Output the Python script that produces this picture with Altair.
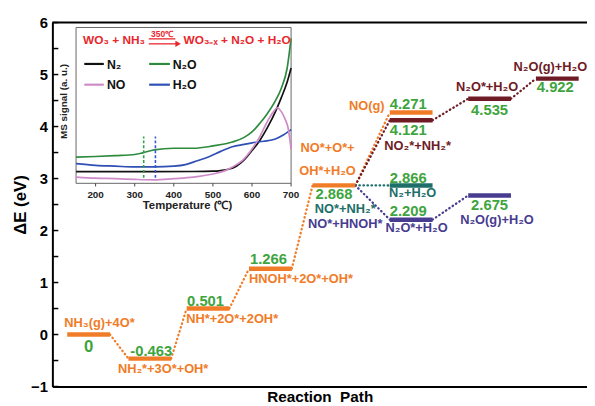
import altair as alt
import pandas as pd

# ---------------- main energy diagram data ----------------
level_x = [0.61, 1.64, 2.62, 3.67, 4.74, 6.04, 6.04, 6.04, 6.04, 7.36, 7.36, 8.50]
level_e = [0.0, -0.463, 0.501, 1.266, 2.868, 4.271, 4.121, 2.866, 2.209, 4.535, 2.675, 4.922]
level_path = ["NH3", "NH3", "NH3", "NH3", "NH3", "NH3", "NO2", "N2", "N2O", "NO2", "N2O", "NO2"]
level_value_text = ["0", "-0.463", "0.501", "1.266", "2.868", "4.271", "4.121",
                    "2.866", "2.209", "4.535", "2.675", "4.922"]

link_from = [0, 1, 2, 3, 4, 4, 6, 9, 4, 4, 8]
link_to = [1, 2, 3, 4, 5, 6, 9, 11, 7, 8, 10]

species_text = ["NH₃(g)+4O*", "NH₂*+3O*+OH*", "NH*+2O*+2OH*", "HNOH*+2O*+OH*",
                "NO*+O*+", "OH*+H₂O", "NO*+NH₂*", "NO*+HNOH*", "NO(g)",
                "NO₂*+NH₂*", "N₂+H₂O", "N₂O*+H₂O", "N₂O*+H₂O", "N₂O(g)+H₂O", "N₂O(g)+H₂O"]
species_level = [0, 1, 2, 3, 4, 4, 4, 4, 5, 6, 7, 8, 9, 10, 11]
species_path = ["NH3", "NH3", "NH3", "NH3", "NH3", "NH3", "N2", "N2O", "NH3",
                "NO2", "N2", "N2O", "NO2", "N2O", "NO2"]

y_ticks = [-1, -0.5, 0, 0.5, 1, 1.5, 2, 2.5, 3, 3.5, 4, 4.5, 5, 5.5, 6]
y_labels = [-1, 0, 1, 2, 3, 4, 5, 6]

# ---------------- inset (MS signal vs temperature) data ----------------
t_n2o = [150, 200, 250, 300, 320, 350, 400, 450, 500, 550, 580, 600, 620, 640, 660, 675, 690, 700]
s_n2o = [1.68, 1.72, 1.78, 1.85, 1.95, 2.15, 2.25, 2.25, 2.4, 2.65, 2.95, 3.3, 3.85, 4.5, 5.3, 6.1, 7.4, 9.3]
t_n2 = [150, 250, 350, 450, 500, 520, 540, 560, 580, 600, 620, 640, 660, 675, 690, 700]
s_n2 = [0.75, 0.75, 0.75, 0.76, 0.78, 0.82, 0.9, 1.1, 1.5, 2.1, 2.75, 3.6, 4.6, 5.5, 6.5, 7.4]
t_no = [150, 200, 250, 300, 350, 400, 450, 500, 530, 550, 575, 600, 620, 640, 655, 665, 675, 685, 692, 700]
s_no = [0.4, 0.33, 0.3, 0.25, 0.22, 0.3, 0.4, 0.6, 0.8, 1.05, 1.45, 2.2, 3.0, 4.0, 4.6, 4.85, 4.6, 4.1, 3.6, 2.2]
t_h2o = [150, 200, 250, 300, 350, 400, 430, 460, 490, 520, 550, 580, 600, 630, 660, 680, 700]
s_h2o = [1.26, 1.15, 1.1, 1.05, 1.05, 1.1, 1.2, 1.45, 1.7, 2.05, 2.35, 2.5, 2.6, 2.7, 2.85, 3.1, 3.45]
dash_t = [323, 353]
inset_ticks = [200, 300, 400, 500, 600, 700]

# ---------------- layout / style ----------------
W, H = 542, 369
X_DOM, Y_DOM = [0, 9], [-1, 6]
PXX = W / (X_DOM[1] - X_DOM[0])
PXY = H / (Y_DOM[1] - Y_DOM[0])
HW = 0.36  # half width of a level bar (x units)
FONT = "Liberation Sans"
GREEN = "#3EA43E"
path_color = {"NH3": "#F07C28", "NO2": "#6E1B25", "N2": "#1E6E69", "N2O": "#473C8F"}

# value-label offsets (px): dx, dy, size
value_off = [(0, 13, 17), (1.5, -8, 15), (-2.5, -8, 15), (-2, -10, 15), (0, 9, 15),
             (-3, -9, 15), (-3, 10, 15), (-3, -8, 15), (-3, -9, 15), (0, 11, 15),
             (0, 10, 15), (-2, 8.5, 15)]
# species-label offsets (px): dx, dy
species_off = [(11, -12), (13.5, 11), (24.5, 11), (31, 10), (-6.5, -38), (-6.5, -15),
               (11.5, 24), (11.5, 39), (-45, -6), (6.5, 26), (1.5, 8), (5.5, 9),
               (-2.5, -12), (7.5, 25), (-7, -12)]

bars = pd.DataFrame({
    "x": [v - HW for v in level_x],
    "x2": [v + HW for v in level_x],
    "y": level_e,
    "c": [path_color[p] for p in level_path],
})

link_rows = []
for k, (a, b) in enumerate(zip(link_from, link_to)):
    col = path_color[level_path[b]]
    link_rows.append({"id": k, "o": 0, "x": level_x[a] + HW, "y": level_e[a], "c": col})
    link_rows.append({"id": k, "o": 1, "x": level_x[b] - HW, "y": level_e[b], "c": col})
links = pd.DataFrame(link_rows)

vals = pd.DataFrame({
    "x": [level_x[i] + value_off[i][0] / PXX for i in range(len(level_x))],
    "y": [level_e[i] - value_off[i][1] / PXY for i in range(len(level_x))],
    "t": level_value_text,
    "fs": [o[2] for o in value_off],
})

spec = pd.DataFrame({
    "x": [level_x[l] + species_off[k][0] / PXX for k, l in enumerate(species_level)],
    "y": [level_e[l] - species_off[k][1] / PXY for k, l in enumerate(species_level)],
    "t": species_text,
    "c": [path_color[p] for p in species_path],
})

xs = alt.Scale(domain=X_DOM, nice=False, zero=False)
ys = alt.Scale(domain=Y_DOM, nice=False, zero=False)
xaxis = alt.Axis(labels=False, ticks=False, grid=False, domainColor="black", domainWidth=2,
                 title="Reaction\u00a0\u00a0Path", titleFont=FONT, titleFontSize=15.5,
                 titleFontWeight="bold", titleColor="black", titlePadding=3)
yaxis = alt.Axis(values=y_labels, format="d", ticks=False, grid=False, domainColor="black",
                 domainWidth=2, labelFont=FONT, labelFontSize=15, labelFontWeight="bold",
                 labelColor="black", labelPadding=5, title="ΔE (eV)", titleFont=FONT,
                 titleFontSize=17, titleFontWeight="bold", titleColor="black", titlePadding=1)


def X(f):
    return alt.X(f, type="quantitative", scale=xs, axis=xaxis)


def Y(f):
    return alt.Y(f, type="quantitative", scale=ys, axis=yaxis)


col_none = alt.Color("c:N", scale=None)

top_border = alt.Chart(pd.DataFrame({"y": [Y_DOM[1]]})).mark_rule(
    color="black", strokeWidth=2).encode(y=Y("y"), x=alt.value(0), x2=alt.value(W))

inner_ticks = alt.Chart(pd.DataFrame({"y": y_ticks})).mark_rule(
    color="black", strokeWidth=1.5).encode(y=Y("y"), x=alt.value(0), x2=alt.value(6))

link_layer = alt.Chart(links).mark_line(
    strokeDash=[0.5, 3.6], strokeCap="round", strokeWidth=2.3).encode(
    x=X("x"), y=Y("y"), detail="id:N", order="o:Q", color=col_none)

bar_layer = alt.Chart(bars).mark_rule(strokeWidth=4.5).encode(
    x=X("x"), x2="x2", y=Y("y"), color=col_none)

val_layer = alt.Chart(vals).mark_text(
    font=FONT, fontWeight="bold", color=GREEN, align="center", baseline="middle").encode(
    x=X("x"), y=Y("y"), text="t:N", size=alt.Size("fs:Q", scale=None))

spec_layer = alt.Chart(spec).mark_text(
    font=FONT, fontSize=13, fontWeight="bold", align="center", baseline="middle").encode(
    x=X("x"), y=Y("y"), text="t:N", color=col_none)

main = alt.layer(top_border, inner_ticks, link_layer, bar_layer, val_layer, spec_layer)

# ---------------- inset ----------------
xi = alt.Scale(domain=[150, 700], range=[24, 242], nice=False, zero=False)
yi = alt.Scale(domain=[0, 10], range=[163, 5], nice=False, zero=False)


def XI(f):
    return alt.X(f, type="quantitative", scale=xi, axis=None)


def YI(f):
    return alt.Y(f, type="quantitative", scale=yi, axis=None)


frame = alt.Chart(pd.DataFrame({"T": [150], "T2": [700], "s": [0], "s2": [10]})).mark_rect(
    fill="white", stroke="#666666", strokeWidth=1).encode(x=XI("T"), x2="T2", y=YI("s"), y2="s2")

series = [("N2O", t_n2o, s_n2o, "#2E8B3E"), ("N2", t_n2, s_n2, "#111111"),
          ("H2O", t_h2o, s_h2o, "#2F4FB3"), ("NO", t_no, s_no, "#CF8BC8")]
rows = []
for name, ts, ss, c in series:
    for i, (t, s) in enumerate(zip(ts, ss)):
        rows.append({"T": t, "s": s, "k": name, "i": i, "c": c})
curves = alt.Chart(pd.DataFrame(rows)).mark_line(strokeWidth=1.7, interpolate="monotone").encode(
    x=XI("T"), y=YI("s"), detail="k:N", order="i:Q", color=col_none)

dashes = alt.Chart(pd.DataFrame({"T": dash_t, "s": [0.35, 0.35], "s2": [3.0, 3.0],
                                 "c": ["#33A043", "#3558D0"]})).mark_rule(
    strokeDash=[3, 2], strokeWidth=1.6).encode(x=XI("T"), y=YI("s"), y2="s2", color=col_none)

itick = alt.Chart(pd.DataFrame({"T": inset_ticks})).mark_rule(color="#444", strokeWidth=1).encode(
    x=XI("T"), y=alt.datum(0, scale=yi, axis=None, type="quantitative"), y2=alt.datum(-0.2))

itick_lab = alt.Chart(pd.DataFrame({"T": inset_ticks, "s": [-0.78] * 6})).mark_text(
    font=FONT, fontSize=10, fontWeight="bold", color="#222", baseline="middle").encode(
    x=XI("T"), y=YI("s"), text="T:Q")

inset_texts = pd.DataFrame({
    "T": [435, 120],
    "s": [-1.45, 5.25],
    "t": ["Temperature (℃)", "MS signal (a. u.)"],
    "a": [0, 270],
    "fs": [11.5, 10],
})
itxt = alt.Chart(inset_texts).mark_text(font=FONT, fontWeight="bold", color="#222",
                                        baseline="middle").encode(
    x=XI("T"), y=YI("s"), text="t:N", angle=alt.Angle("a:Q", scale=None),
    size=alt.Size("fs:Q", scale=None))

# legend
leg_lines = pd.DataFrame({"T": [171, 337, 171, 337], "T2": [221, 390, 221, 390],
                          "s": [7.66, 7.66, 6.33, 6.33],
                          "c": ["#111111", "#2E8B3E", "#CF8BC8", "#2F4FB3"]})
leg_l = alt.Chart(leg_lines).mark_rule(strokeWidth=2.2).encode(
    x=XI("T"), x2="T2", y=YI("s"), color=col_none)
leg_t = alt.Chart(pd.DataFrame({"T": [229, 397, 229, 397], "s": [7.6, 7.6, 6.3, 6.3],
                                "t": ["N₂", "N₂O", "NO", "H₂O"]})).mark_text(
    font=FONT, fontSize=12.5, fontWeight="bold", color="#111", align="left", baseline="middle").encode(
    x=XI("T"), y=YI("s"), text="t:N")

# reaction title in inset
RED = "#E8262B"
rt = alt.Chart(pd.DataFrame({"T": [168, 425], "s": [9.18, 9.18],
                             "t": ["WO₃ + NH₃", "WO₃₋ₓ + N₂O + H₂O"]})).mark_text(
    font=FONT, fontSize=12, fontWeight="bold", color=RED, align="left", baseline="middle").encode(
    x=XI("T"), y=YI("s"), text="t:N")
rt_temp = alt.Chart(pd.DataFrame({"T": [370], "s": [9.6], "t": ["350℃"]})).mark_text(
    font=FONT, fontSize=8.5, fontWeight="bold", color=RED, baseline="middle").encode(
    x=XI("T"), y=YI("s"), text="t:N")
arrow_lines = alt.Chart(pd.DataFrame({"T": [336, 336], "T2": [404, 410], "s": [9.27, 8.95]})).mark_rule(
    color=RED, strokeWidth=1.3).encode(x=XI("T"), x2="T2", y=YI("s"))
arrow_head = alt.Chart(pd.DataFrame({"T": [411], "s": [8.95]})).mark_point(
    shape="triangle-right", filled=True, color=RED, size=40, opacity=1).encode(x=XI("T"), y=YI("s"))

inset = alt.layer(frame, curves, dashes, itick, itick_lab, itxt, leg_l, leg_t,
                  rt, rt_temp, arrow_lines, arrow_head)

chart = alt.layer(main, inset).resolve_scale(x="independent", y="independent").properties(
    width=W, height=H,
    autosize=alt.AutoSizeParams(type="none"),
    padding={"left": 45, "top": 12, "right": 0, "bottom": 17},
    background="white",
).configure_view(stroke=None)

chart.save("out.html", embed_options={"renderer": "svg", "actions": False})
